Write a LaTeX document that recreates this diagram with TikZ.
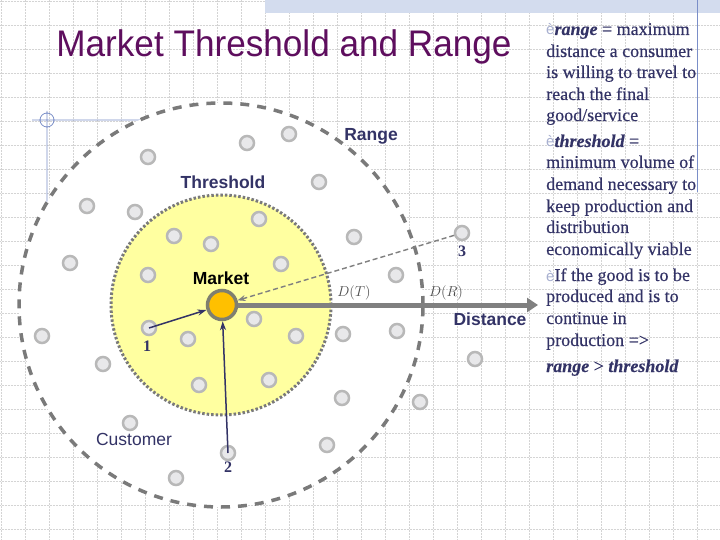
\documentclass[tikz,border=0pt]{standalone}
\usepackage{fontspec}
\setmainfont{Liberation Serif}
\setsansfont{Liberation Sans}
\newfontface\rtfont[FakeBold=0.4]{Liberation Serif}
\newfontface\rtbifont[FakeBold=0.3]{Liberation Serif Bold Italic}
\usetikzlibrary{arrows.meta}
\definecolor{gridc}{HTML}{D4D4D4}
\definecolor{navy}{HTML}{333366}
\definecolor{titlec}{HTML}{5E0E5E}
\definecolor{dotring}{HTML}{B8B8B8}
\definecolor{dotfill}{HTML}{E8E8EA}
\definecolor{yel}{HTML}{FFFFA0}
\definecolor{ringgray}{HTML}{7A7A7A}
\definecolor{axisgray}{HTML}{808080}
\definecolor{mkt}{HTML}{FFC000}
\definecolor{mktring}{HTML}{7F7F6F}
\definecolor{deco}{HTML}{7A8EC8}
\definecolor{band}{HTML}{D3DCEE}
\definecolor{bullet}{HTML}{A8B0D0}
\tikzset{
  cust/.style={circle, draw=dotring, fill=dotfill, line width=2.5pt, minimum size=14pt, inner sep=0pt},
  lbl/.style={font=\sffamily\bfseries\fontsize{17.5}{20}\selectfont, text=navy, inner sep=0pt},
  num/.style={font=\rmfamily\bfseries\fontsize{16}{18}\selectfont, text=navy, inner sep=0pt},
  dlab/.style={font=\fontsize{15.5}{17}\selectfont, text=black!70, inner sep=0pt},
  rtext/.style={font=\rtfont\fontsize{18}{21}\selectfont, text=navy, anchor=base west, inner sep=0pt},
  custarrow/.style={navy, line width=1.5pt, -{Stealth[length=9pt,width=6pt]}},
}
\newcommand{\bulletmark}{{\color{bullet}\sffamily\fontsize{15}{16}\selectfont è}}
\newcommand{\kw}[1]{{\rtbifont #1}}
\begin{document}
\begin{tikzpicture}[x=1pt,y=-1pt]
\useasboundingbox (0,0) rectangle (720,540);
\fill[white] (0,0) rectangle (720,540);
% background grid
\foreach \k in {0,...,29} \draw[gridc, densely dotted, line width=0.5pt] (1+24*\k,0) -- (1+24*\k,540);
\foreach \k in {0,...,22} \draw[gridc, densely dotted, line width=0.5pt] (0,1+24*\k) -- (720,1+24*\k);
% slide decorations
\fill[band] (265,0) rectangle (720,13);
\draw[deco, line width=0.8pt] (32,120) -- (140,120) (47,111) -- (47,202) (47,120) circle[radius=7];
\draw[deco, line width=0.8pt] (697,0) -- (697,192);
% title
\node[font=\sffamily\fontsize{37}{40}\selectfont, text=titlec, inner sep=0pt] (title) at (284,47) {\scalebox{0.95}[1]{Market Threshold and Range}};
% range and threshold areas
\node (rangearea) [circle, fill=white, draw=ringgray, line width=3.5pt, dash pattern=on 9pt off 8pt, minimum size=404pt, inner sep=0pt] at (221,305) {};
\node (thrarea) [circle, fill=yel, draw=ringgray, line width=3pt, dash pattern=on 2.5pt off 2pt, minimum size=220pt, inner sep=0pt] at (221,305) {};
% customers
\foreach \p in {(148,157),(87,206),(135,212),(70,263),(247,143),(289,134),(319,182),(354,237),(396,275),
  (42,336),(103,364),(130,423),(176,478),(343,334),(397,331),(475,359),(342,398),(420,402),(327,445),
  (174,236),(211,244),(259,219),(281,264),(148,275),(188,339),(254,319),(296,336),(199,385),(269,380)}
  \node[cust] at \p {};
\node[cust] (c1) at (149,328) {};
\node[cust] (c2) at (228,453) {};
\node[cust] (c3) at (462,233) {};
% market
\node (mkt) [circle, fill=mkt, draw=mktring, line width=3.5pt, minimum size=29pt, inner sep=0pt] at (222,305) {};
% distance axis
\coordinate (axisend) at (538,305);
\draw[axisgray, line width=5pt, -{Triangle[length=11pt,width=14pt]}] (mkt.east) -- (axisend);
% connectors
\draw[axisgray, line width=1.4pt, dash pattern=on 5pt off 3pt, -{Stealth[length=8pt,width=6pt]}] (c3) -- (mkt);
\draw[custarrow] (c1.center) -- (mkt);
\draw[custarrow] (c2.center) -- (mkt);
% labels
\node[lbl] (lrange) at (371,136) {Range};
\node[lbl] (lthr) at (223,182) {Threshold};
\node[lbl, text=black] (lmkt) at (221,278) {Market};
\node[lbl] (ldist) at (490,319) {Distance};
\node[lbl, font=\sffamily\fontsize{17.5}{20}\selectfont] (lcust) at (134,439) {Customer};
\node[num] (n1) at (147,346) {1};
\node[num] (n2) at (228,467) {2};
\node[num] (n3) at (462,251) {3};
\node[dlab] (dt) at (354,293) {$D(T)$};
\node[dlab] (dr) at (446,293) {$D(R)$};
% right-hand text
\node[rtext] (t1) at (546,35) {\bulletmark\kw{range} = maximum};
\node[rtext] (t2) at (546,57) {distance a consumer};
\node[rtext] (t3) at (546,78) {is willing to travel to};
\node[rtext] (t4) at (546,100) {reach the final};
\node[rtext] (t5) at (546,121) {good/service};
\node[rtext] (t6) at (546,147) {\bulletmark\kw{threshold} =};
\node[rtext] (t7) at (546,168) {minimum volume of};
\node[rtext] (t8) at (546,190) {demand necessary to};
\node[rtext] (t9) at (546,212) {keep production and};
\node[rtext] (t10) at (546,233) {distribution};
\node[rtext] (t11) at (546,255) {economically viable};
\node[rtext] (t12) at (546,281) {\bulletmark If the good is to be};
\node[rtext] (t13) at (546,302) {produced and is to};
\node[rtext] (t14) at (546,324) {continue in};
\node[rtext] (t15) at (546,346) {production =>};
\node[rtext] (t16) at (546,372) {\kw{range} > \kw{threshold}};
\end{tikzpicture}
\end{document}
